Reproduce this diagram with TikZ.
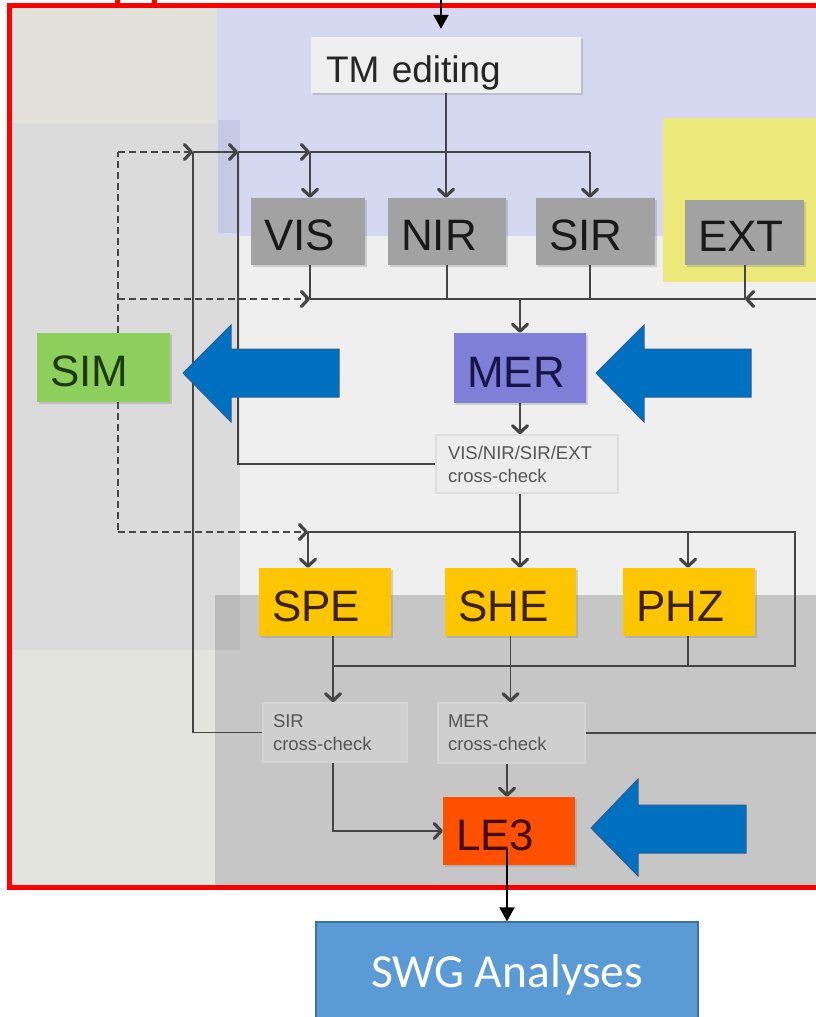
\documentclass[tikz,border=0pt]{standalone}
\usepackage{fontspec}
\setmainfont{Liberation Sans}
\newfontfamily\calfont{Carlito}
\usetikzlibrary{arrows.meta,shadows}

% panel backgrounds
\definecolor{bgbeige}{HTML}{E2E2DA}
\definecolor{bgbeigelow}{HTML}{E4E4DE}
\definecolor{bglav}{HTML}{D6D7F0}
\definecolor{bglavdark}{HTML}{C6C8E4}
\definecolor{bggray}{HTML}{DBDBDB}
\definecolor{bglight}{HTML}{EFEFEF}
\definecolor{bgyellow}{HTML}{EBE97A}
\definecolor{bglow}{HTML}{C6C6C6}
\definecolor{bgstrip}{HTML}{BABABA}
% boxes
\definecolor{tmfill}{HTML}{EFEFEF}
\definecolor{grayfill}{HTML}{A2A2A2}
\definecolor{merfill}{HTML}{7F7FD8}
\definecolor{mertext}{HTML}{15154A}
\definecolor{simfill}{HTML}{8DCF5C}
\definecolor{simtext}{HTML}{1D3A12}
\definecolor{yelfill}{HTML}{FEC600}
\definecolor{yeltext}{HTML}{3A2200}
\definecolor{lefill}{HTML}{FF5000}
\definecolor{letext}{HTML}{400C00}
\definecolor{xtext}{HTML}{555555}
\definecolor{linecol}{HTML}{454545}
\definecolor{bluearrow}{HTML}{0070C0}
\definecolor{blueedge}{HTML}{2F5C8F}
\definecolor{swgfill}{HTML}{5B9BD5}
\definecolor{swgedge}{HTML}{41719C}

\begin{document}
\begin{tikzpicture}[x=1pt,y=-1pt,
  pbox/.style={rectangle, inner xsep=13pt, inner ysep=0pt, align=left,
    text height=38pt, text depth=0pt, font=\fontsize{44}{44}\selectfont,
    drop shadow={opacity=0.3, shadow xshift=1.5pt, shadow yshift=-1.5pt}},
  xcheck/.style={rectangle, inner xsep=10pt, inner ysep=0pt, align=left,
    text=xtext, font=\fontsize{18.5}{23}\selectfont, line width=1.5pt},
  conn/.style={draw=linecol, line width=1.5pt},
  dline/.style={draw=linecol, line width=1.5pt, dash pattern=on 7pt off 4pt},
  arr/.style={-{Straight Barb[length=7pt,width=15pt,line width=3.2pt,round]}},
  blk/.style={draw=black, line width=2pt, -{Triangle[length=14pt,width=15pt]}},
  bigarrow/.style={fill=bluearrow, draw=blueedge, line width=1pt}]

\clip (0,0) rectangle (816,1017);
\fill[white] (0,0) rectangle (816,1017);

% background panels of the pipeline
\fill[bgbeige] (12,8) rectangle (217,123);
\fill[bglav] (217,8) rectangle (816,236);
\fill[bggray] (12,123) rectangle (217,650);
\fill[bggray] (217,236) rectangle (240,595);
\fill[bglavdark] (218,120) rectangle (240,233);
\fill[bglight] (240,236) rectangle (816,595);
\fill[bgyellow] (663,118) rectangle (816,282);
\fill[bglow] (215,595) rectangle (816,886);
\fill[bgstrip] (215,595) rectangle (240,650);
\fill[bgbeigelow] (12,650) rectangle (215,886);

% processing functions
\node[pbox, fill=tmfill, text=black!85, font=\fontsize{37}{37}\selectfont,
      inner xsep=15pt, text width=240pt, text height=34pt, minimum height=56pt]
      (tm) at (446,65) {TM editing};
\node[pbox, fill=grayfill, text=black!90, text width=88pt, minimum height=67pt] (vis) at (308,231.5) {VIS};
\node[pbox, fill=grayfill, text=black!90, text width=92pt, minimum height=67pt] (nir) at (447,231.5) {NIR};
\node[pbox, fill=grayfill, text=black!90, text width=93pt, minimum height=67pt] (sir) at (595.5,231.5) {SIR};
\node[pbox, fill=grayfill, text=black!90, text width=93pt, minimum height=65pt] (ext) at (744.5,232.5) {EXT};
\node[pbox, fill=merfill, text=mertext, text width=106pt, minimum height=70pt] (mer) at (520,368) {MER};
\node[pbox, fill=simfill, text=simtext, text width=107pt, minimum height=69pt] (sim) at (103.5,367.5) {SIM};
\node[pbox, fill=yelfill, text=yeltext, text width=106pt, minimum height=68pt] (spe) at (325,602) {SPE};
\node[pbox, fill=yelfill, text=yeltext, text width=105pt, minimum height=68pt] (she) at (510.5,602) {SHE};
\node[pbox, fill=yelfill, text=yeltext, text width=106pt, minimum height=68pt] (phz) at (689,602) {PHZ};
\node[pbox, fill=lefill, text=letext, text width=106pt, minimum height=68pt] (le3) at (509,831) {LE3};

% cross-checks
\node[xcheck, fill=black!7, draw=black!13, inner xsep=12pt, text width=158pt, minimum height=58pt]
      (xc1) at (527,464) {VIS/NIR/SIR/EXT\\cross-check};
\node[xcheck, fill=black!19, draw=black!17, text width=124pt, minimum height=59pt]
      (xc2) at (335,732.5) {SIR\\cross-check};
\node[xcheck, fill=black!19, draw=black!17, text width=127pt, minimum height=60pt]
      (xc3) at (511.5,733) {MER\\cross-check};

% downstream analyses
\node[draw=swgedge, fill=swgfill, line width=1.3pt, minimum width=382pt, minimum height=106pt,
      text=white, font=\calfont\fontsize{47.5}{47.5}\selectfont] (swg) at (507,975) {SWG Analyses};

% junctions of the flow lines
\coordinate (s1) at (118,152);
\coordinate (s2) at (118,299);
\coordinate (s3) at (118,532);
\coordinate (j1) at (193,152);
\coordinate (j2) at (238,152);
\coordinate (j3) at (310,152);
\coordinate (j5) at (590,152);
\coordinate (k1) at (310,299);
\coordinate (k5) at (745,299);
\coordinate (kR) at (816,299);
\coordinate (b1) at (308,532);
\coordinate (b3) at (688,532);
\coordinate (b4) at (795,532);
\coordinate (r0) at (333,666);
\coordinate (r1) at (795,666);
\coordinate (in0) at (441,0);
\coordinate (out0) at (507,849);

% simulation inputs (dashed)
\draw[dline] (sim.north -| s1) -- (s1);
\draw[dline] (sim.south -| s1) -- (s3);
\draw[dline,arr] (s1) -- (j1);
\draw[dline,arr] (s2) -- (k1);
\draw[dline,arr] (s3) -- (b1);

% first bus: TM editing to the instruments
\draw[conn,arr] (j1) -- (j2);
\draw[conn,arr] (j2) -- (j3);
\draw[conn] (j3) -- (j5);
\draw[conn,arr] (j3) -- (j3 |- vis.north);
\draw[conn,arr] (j5) -- (j5 |- sir.north);
\draw[conn,arr] (tm.south) -- (tm.south |- nir.north);

% second bus: instruments to MER
\draw[conn] (vis.south -| k1) -- (k1);
\draw[conn] (k1) -- (k5);
\draw[conn] (nir.south) -- (nir.south |- k1);
\draw[conn] (sir.south -| j5) -- (j5 |- k1);
\draw[conn] (ext.south -| k5) -- (k5);
\draw[conn,arr] (kR) -- (k5);
\draw[conn,arr] (mer.north |- k1) -- (mer.north);

% MER and its cross-check
\draw[conn,arr] (mer.south) -- (mer.south |- xc1.north);
\draw[conn] (xc1.west) -| (j2);
\draw[conn,arr] (xc1.south -| mer.south) -- (mer.south |- she.north);

% third bus: SPE / SHE / PHZ loop
\draw[conn] (b1) -- (b4) -- (r1) -- (r0);
\draw[conn,arr] (b1) -- (b1 |- spe.north);
\draw[conn,arr] (b3) -- (b3 |- phz.north);
\draw[conn] (phz.south -| b3) -- (r1 -| b3);
\draw[conn,arr] (spe.south -| r0) -- (r0 |- xc2.north);
\draw[conn,arr] (she.south) -- (she.south |- xc3.north);
\draw[conn] (xc3.east) -- (xc3.east -| kR);

% into LE3 and feedback of the SIR cross-check
\draw[conn,arr] (xc3.south -| out0) -- (out0 |- le3.north);
\draw[conn,arr] (xc2.south -| r0) |- (le3.west);
\draw[conn] (xc2.west) -| (j1);

% highlight arrows
\fill[bigarrow] (183,373) -- (231,325) -- (231,349) -- (339,349) -- (339,397) -- (231,397) -- (231,422) -- cycle;
\fill[bigarrow] (596,373) -- (644,325) -- (644,349) -- (751,349) -- (751,397) -- (644,397) -- (644,422) -- cycle;
\fill[bigarrow] (591,828) -- (638,779) -- (638,805) -- (746,805) -- (746,853) -- (638,853) -- (638,876) -- cycle;

% red frame
\draw[red, line width=5pt] (9.5,5.5) rectangle (840,887.5);
\fill[red] (115,0) rectangle (120,5);
\fill[red] (152,0) rectangle (157,5);

% entry and exit arrows
\draw[blk, shorten >=8pt] (in0) -- (in0 |- tm.north);
\draw[blk] (out0) -- (out0 |- swg.north);

\end{tikzpicture}
\end{document}
